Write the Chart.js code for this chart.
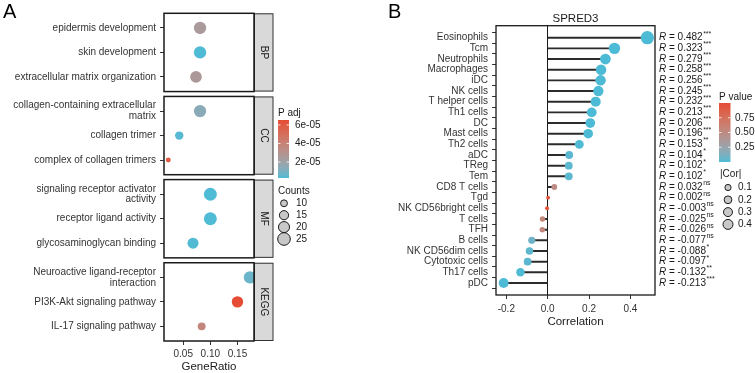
<!DOCTYPE html>
<html>
<head>
<meta charset="utf-8">
<script src="https://cdn.jsdelivr.net/npm/chart.js@4.4.1/dist/chart.umd.min.js"></script>
<style>
  html, body { margin: 0; padding: 0; background: #fff; }
  #wrap { position: relative; width: 755px; height: 373px; overflow: hidden; }
  #chartA { position: absolute; left: 0; top: 0; }
  #chartB { position: absolute; left: 380px; top: 0; }
</style>
</head>
<body>
<div id="wrap">
  <canvas id="chartA" width="380" height="373"></canvas>
  <canvas id="chartB" width="375" height="373"></canvas>
</div>
<script>
// ---- panel A data (enrichment) ----
const facetNames = ["BP", "CC", "MF", "KEGG"];

const bpTerms = ["epidermis development", "skin development", "extracellular matrix organization"];
const bpRatio = [0.081, 0.081, 0.0735];
const bpCount = [24, 24, 22];
const bpPadj = [2.5e-05, 0.3e-05, 2.6e-05];

const ccTerms = ["collagen-containing extracellular\nmatrix", "collagen trimer", "complex of collagen trimers"];
const ccRatio = [0.081, 0.0426, 0.0224];
const ccCount = [24, 13, 7];
const ccPadj = [1.4e-05, 0.4e-05, 5.9e-05];

const mfTerms = ["signaling receptor activator\nactivity", "receptor ligand activity", "glycosaminoglycan binding"];
const mfRatio = [0.100, 0.100, 0.068];
const mfCount = [26, 26, 20];
const mfPadj = [0.3e-05, 0.3e-05, 0.35e-05];

const keggTerms = ["Neuroactive ligand-receptor\ninteraction", "PI3K-Akt signaling pathway", "IL-17 signaling pathway"];
const keggRatio = [0.173, 0.150, 0.084];
const keggCount = [24, 21, 12];
const keggPadj = [0.7e-05, 6.54e-05, 3.7e-05];

const ratioTicks = [0.05, 0.10, 0.15];
const padjTicks = [2e-05, 4e-05, 6e-05];
const countBreaks = [10, 15, 20, 25];

// ---- panel B data (SPRED3 correlation) ----
const cells = ["Eosinophils", "Tcm", "Neutrophils", "Macrophages", "iDC", "NK cells", "T helper cells",
  "Th1 cells", "DC", "Mast cells", "Th2 cells", "aDC", "TReg", "Tem", "CD8 T cells", "Tgd",
  "NK CD56bright cells", "T cells", "TFH", "B cells", "NK CD56dim cells", "Cytotoxic cells", "Th17 cells", "pDC"];
const corr = [0.482, 0.323, 0.279, 0.258, 0.256, 0.245, 0.232, 0.213, 0.206, 0.196, 0.153, 0.104,
  0.102, 0.102, 0.032, 0.002, -0.003, -0.025, -0.026, -0.077, -0.088, -0.097, -0.132, -0.213];
const pval = [0.0001, 0.0001, 0.0001, 0.0001, 0.0001, 0.0001, 0.0001, 0.0001, 0.0001, 0.0001, 0.003, 0.03,
  0.035, 0.035, 0.5, 0.96, 0.94, 0.55, 0.54, 0.09, 0.04, 0.03, 0.004, 0.0001];
const stars = ["***", "***", "***", "***", "***", "***", "***", "***", "***", "***", "**", "*",
  "*", "*", "ns", "ns", "ns", "ns", "ns", "ns", "*", "*", "**", "***"];
const corrTicks = [-0.2, 0, 0.2, 0.4];
const pTicks = [0.25, 0.5, 0.75];
const corBreaks = [0.1, 0.2, 0.3, 0.4];

const FONT = '"Liberation Sans", Arial, sans-serif';
Chart.defaults.font.family = FONT;
Chart.defaults.color = "#333";

// colour gradient, interpolated in Lab like ggplot
function hexToRgb(h) { return [1, 3, 5].map(i => parseInt(h.slice(i, i + 2), 16)); }
function rgbToLab([r, g, b]) {
  const lin = c => { c /= 255; return c <= 0.04045 ? c / 12.92 : Math.pow((c + 0.055) / 1.055, 2.4); };
  const R = lin(r), G = lin(g), B = lin(b);
  const X = (R * 0.4124 + G * 0.3576 + B * 0.1805) / 0.95047;
  const Y = R * 0.2126 + G * 0.7152 + B * 0.0722;
  const Z = (R * 0.0193 + G * 0.1192 + B * 0.9505) / 1.08883;
  const f = t => t > 0.008856 ? Math.cbrt(t) : 7.787 * t + 16 / 116;
  const fx = f(X), fy = f(Y), fz = f(Z);
  return [116 * fy - 16, 500 * (fx - fy), 200 * (fy - fz)];
}
function labToRgb([L, a, b]) {
  const fy = (L + 16) / 116, fx = fy + a / 500, fz = fy - b / 200;
  const fi = t => t * t * t > 0.008856 ? t * t * t : (t - 16 / 116) / 7.787;
  const X = fi(fx) * 0.95047, Y = fi(fy), Z = fi(fz) * 1.08883;
  const R = X * 3.2406 - Y * 1.5372 - Z * 0.4986;
  const G = -X * 0.9689 + Y * 1.8758 + Z * 0.0415;
  const B = X * 0.0557 - Y * 0.2040 + Z * 1.0570;
  const g = c => { c = c <= 0.0031308 ? 12.92 * c : 1.055 * Math.pow(c, 1 / 2.4) - 0.055; return Math.round(Math.max(0, Math.min(1, c)) * 255); };
  return `rgb(${g(R)},${g(G)},${g(B)})`;
}
const LOW = rgbToLab(hexToRgb("#4DBBD5"));
const HIGH = rgbToLab(hexToRgb("#E64B35"));
function grad(t) {
  t = Math.max(0, Math.min(1, t));
  return labToRgb(LOW.map((v, i) => v + (HIGH[i] - v) * t));
}

const PADJ_MIN = 0.27e-05, PADJ_MAX = 6.54e-05;
const padjColor = v => grad((v - PADJ_MIN) / (PADJ_MAX - PADJ_MIN));
const sizeA = c => Math.sqrt(Math.max(1, 1.88 * c - 7));
const sizeB = a => 1.6 + 7.2 * Math.sqrt(a);

// rows of panel A, facets stacked on one y scale
const FACET_STEP = 3.4;
const groupsA = [
  { name: "BP", terms: bpTerms, ratio: bpRatio, count: bpCount, padj: bpPadj },
  { name: "CC", terms: ccTerms, ratio: ccRatio, count: ccCount, padj: ccPadj },
  { name: "MF", terms: mfTerms, ratio: mfRatio, count: mfCount, padj: mfPadj },
  { name: "KEGG", terms: keggTerms, ratio: keggRatio, count: keggCount, padj: keggPadj },
];
const rowsA = [];
groupsA.forEach((g, k) => {
  g.terms.forEach((t, j) => {
    rowsA.push({ x: g.ratio[j], y: k * FACET_STEP + j, term: t, count: g.count[j], padj: g.padj[j] });
  });
});

function colorbar(ctx, o) {
  const gr = ctx.createLinearGradient(0, o.top + o.h, 0, o.top);
  for (let i = 0; i <= 20; i++) gr.addColorStop(i / 20, grad(i / 20));
  ctx.fillStyle = gr;
  ctx.fillRect(o.x, o.top, o.w, o.h);
  ctx.strokeStyle = "#fff";
  ctx.lineWidth = 0.8;
  ctx.font = `10px ${FONT}`;
  ctx.textAlign = "left";
  ctx.textBaseline = "middle";
  o.ticks.forEach(v => {
    const py = o.top + o.h * (1 - (v - o.min) / (o.max - o.min));
    ctx.beginPath();
    ctx.moveTo(o.x, py); ctx.lineTo(o.x + 2.5, py);
    ctx.moveTo(o.x + o.w - 2.5, py); ctx.lineTo(o.x + o.w, py);
    ctx.stroke();
    ctx.fillStyle = "#1a1a1a";
    ctx.fillText(o.fmt(v), o.labelX, py);
  });
  ctx.fillText(o.title, o.x, o.titleY);
}

function sizeLegend(ctx, o) {
  ctx.font = `10px ${FONT}`;
  ctx.textAlign = "left";
  ctx.textBaseline = "middle";
  ctx.fillStyle = "#1a1a1a";
  ctx.fillText(o.title, o.titleX, o.titleY);
  o.breaks.forEach((b, i) => {
    const py = o.y0 + i * o.step;
    ctx.beginPath();
    ctx.arc(o.cx, py, o.size(b), 0, Math.PI * 2);
    ctx.fillStyle = "#c8c8c8";
    ctx.fill();
    ctx.lineWidth = 1;
    ctx.strokeStyle = "#1a1a1a";
    ctx.stroke();
    ctx.fillStyle = "#1a1a1a";
    ctx.fillText(o.fmt(b), o.labelX, py);
  });
}

const panelAPlugin = {
  id: "panelA",
  afterDatasetsDraw(chart) {
    const { ctx, chartArea: { left, right }, scales: { y } } = chart;
    ctx.save();
    groupsA.forEach((g, k) => {
      const top = y.getPixelForValue(k * FACET_STEP - 0.6);
      const bottom = y.getPixelForValue(k * FACET_STEP + 2.6);
      ctx.fillStyle = "#d9d9d9";
      ctx.fillRect(right, top, 19, bottom - top);
      ctx.lineWidth = 1;
      ctx.strokeStyle = "#333";
      ctx.strokeRect(right + 0.5, top + 0.5, 18.5, bottom - top - 1);
      ctx.lineWidth = 1.5;
      ctx.strokeStyle = "#1a1a1a";
      ctx.strokeRect(left, top, right - left, bottom - top);
      ctx.save();
      ctx.translate(right + 10, (top + bottom) / 2);
      ctx.rotate(Math.PI / 2);
      ctx.fillStyle = "#1a1a1a";
      ctx.font = `10px ${FONT}`;
      ctx.textAlign = "center";
      ctx.textBaseline = "middle";
      ctx.fillText(g.name, 0, 0);
      ctx.restore();
    });
    ctx.restore();
  },
  afterDraw(chart) {
    const ctx = chart.ctx;
    ctx.save();
    ctx.fillStyle = "#000";
    ctx.font = `20px ${FONT}`;
    ctx.textAlign = "left";
    ctx.textBaseline = "alphabetic";
    ctx.fillText("A", 3, 18);
    colorbar(ctx, {
      x: 278, top: 120, w: 11, h: 58, min: PADJ_MIN, max: PADJ_MAX, ticks: padjTicks,
      fmt: v => v.toExponential(0).replace("e-5", "e-05"), labelX: 295, title: "P adj", titleY: 113
    });
    sizeLegend(ctx, {
      title: "Counts", titleX: 278, titleY: 191.5, breaks: countBreaks, y0: 203.3, step: 11.9,
      cx: 284, labelX: 296, size: sizeA, fmt: v => String(v)
    });
    ctx.restore();
  }
};

new Chart(document.getElementById("chartA"), {
  type: "scatter",
  data: {
    datasets: [{
      data: rowsA,
      backgroundColor: c => padjColor(c.raw.padj),
      pointRadius: c => sizeA(c.raw.count),
      borderWidth: 0,
    }],
  },
  options: {
    responsive: false,
    animation: false,
    events: [],
    layout: { padding: { top: 13.3, right: 126, bottom: 0, left: 0 } },
    plugins: { legend: { display: false }, tooltip: { enabled: false } },
    scales: {
      x: {
        type: "linear",
        min: 0.0145,
        max: 0.1805,
        afterBuildTicks: s => { s.ticks = ratioTicks.map(v => ({ value: v })); },
        afterFit: s => { s.height = 32; },
        ticks: { autoSkip: false, maxRotation: 0, padding: 3, font: { size: 10 }, color: "#333", callback: v => v.toFixed(2) },
        grid: { drawOnChartArea: false, tickLength: 4, tickColor: "#333" },
        border: { display: false },
        title: { display: true, text: "GeneRatio", color: "#1a1a1a", font: { size: 11.5, lineHeight: 1 }, padding: 0 },
      },
      y: {
        type: "linear",
        reverse: true,
        min: -0.6,
        max: 3 * FACET_STEP + 2.6,
        afterBuildTicks: s => { s.ticks = rowsA.map(r => ({ value: r.y })); },
        afterFit: s => { s.width = 164; },
        ticks: {
          autoSkip: false,
          padding: 4,
          font: { size: 10, lineHeight: 1.08 },
          color: "#333",
          callback: v => {
            const r = rowsA.find(row => Math.abs(row.y - v) < 1e-6);
            return r ? r.term.split("\n") : "";
          },
        },
        grid: { drawOnChartArea: false, tickLength: 4, tickColor: "#333" },
        border: { display: false },
      },
    },
  },
  plugins: [panelAPlugin],
});

// ---- panel B ----
const panelBPlugin = {
  id: "panelB",
  afterDatasetsDraw(chart) {
    const { ctx, chartArea: { left, right, top, bottom }, scales: { y } } = chart;
    ctx.save();
    ctx.lineWidth = 1.3;
    ctx.strokeStyle = "#1a1a1a";
    ctx.strokeRect(left, top, right - left, bottom - top);
    ctx.textAlign = "left";
    ctx.textBaseline = "middle";
    ctx.fillStyle = "#1a1a1a";
    cells.forEach((c, i) => {
      const py = y.getPixelForValue(i);
      let px = right + 4;
      ctx.font = `italic 10px ${FONT}`;
      ctx.fillText("R", px, py);
      px += ctx.measureText("R").width;
      ctx.font = `10px ${FONT}`;
      const s = " = " + corr[i].toFixed(3);
      ctx.fillText(s, px, py);
      px += ctx.measureText(s).width;
      ctx.font = `7px ${FONT}`;
      ctx.fillText(stars[i], px + 0.5, py - 4);
    });
    ctx.font = `11.5px ${FONT}`;
    ctx.textAlign = "center";
    ctx.fillText("SPRED3", (left + right) / 2, 19);
    ctx.restore();
  },
  afterDraw(chart) {
    const ctx = chart.ctx;
    ctx.save();
    ctx.fillStyle = "#000";
    ctx.font = `20px ${FONT}`;
    ctx.textAlign = "left";
    ctx.textBaseline = "alphabetic";
    ctx.fillText("B", 8, 18);
    colorbar(ctx, {
      x: 339, top: 103, w: 11.5, h: 59, min: 0, max: 1, ticks: pTicks,
      fmt: v => v.toFixed(2), labelX: 355, title: "P value", titleY: 97
    });
    sizeLegend(ctx, {
      title: "|Cor|", titleX: 340, titleY: 174, breaks: corBreaks, y0: 187.5, step: 12.3,
      cx: 348, labelX: 358, size: a => 1.2 + 6 * Math.sqrt(a), fmt: v => v.toFixed(1)
    });
    ctx.restore();
  }
};

new Chart(document.getElementById("chartB"), {
  type: "scatter",
  data: {
    datasets: [
      {
        type: "bar",
        indexAxis: "y",
        data: corr.map((v, i) => ({ x: v, y: i })),
        backgroundColor: "#2b2b2b",
        barThickness: 1.3,
        borderWidth: 0,
        order: 2,
      },
      {
        type: "scatter",
        data: corr.map((v, i) => ({ x: v, y: i })),
        backgroundColor: c => grad(pval[c.dataIndex]),
        pointRadius: c => sizeB(Math.abs(corr[c.dataIndex])),
        borderWidth: 0,
        order: 1,
      },
    ],
  },
  options: {
    responsive: false,
    animation: false,
    events: [],
    layout: { padding: { top: 25.7, right: 100, bottom: 45.5, left: 0 } },
    plugins: { legend: { display: false }, tooltip: { enabled: false } },
    scales: {
      x: {
        type: "linear",
        min: -0.25,
        max: 0.519,
        afterBuildTicks: s => { s.ticks = corrTicks.map(v => ({ value: v })); },
        afterFit: s => { s.height = 32.5; },
        ticks: { autoSkip: false, maxRotation: 0, padding: 4, font: { size: 10 }, color: "#333", callback: v => v.toFixed(1) },
        grid: {
          drawOnChartArea: true,
          color: c => (c.tick && c.tick.value === 0 ? "#1a1a1a" : "rgba(0,0,0,0)"),
          lineWidth: 1,
          tickLength: 4,
          tickColor: "#333",
        },
        border: { display: false },
        title: { display: true, text: "Correlation", color: "#1a1a1a", font: { size: 11.5, lineHeight: 1 }, padding: 0 },
      },
      y: {
        type: "linear",
        reverse: true,
        min: -0.6,
        max: cells.length - 1 + 0.6,
        afterBuildTicks: s => { s.ticks = cells.map((c, i) => ({ value: i })); },
        afterFit: s => { s.width = 116; },
        ticks: { autoSkip: false, padding: 4, font: { size: 10 }, color: "#333", callback: v => cells[Math.round(v)] ?? "" },
        grid: { drawOnChartArea: false, tickLength: 4, tickColor: "#333" },
        border: { display: false },
      },
    },
  },
  plugins: [panelBPlugin],
});
</script>
</body>
</html>
